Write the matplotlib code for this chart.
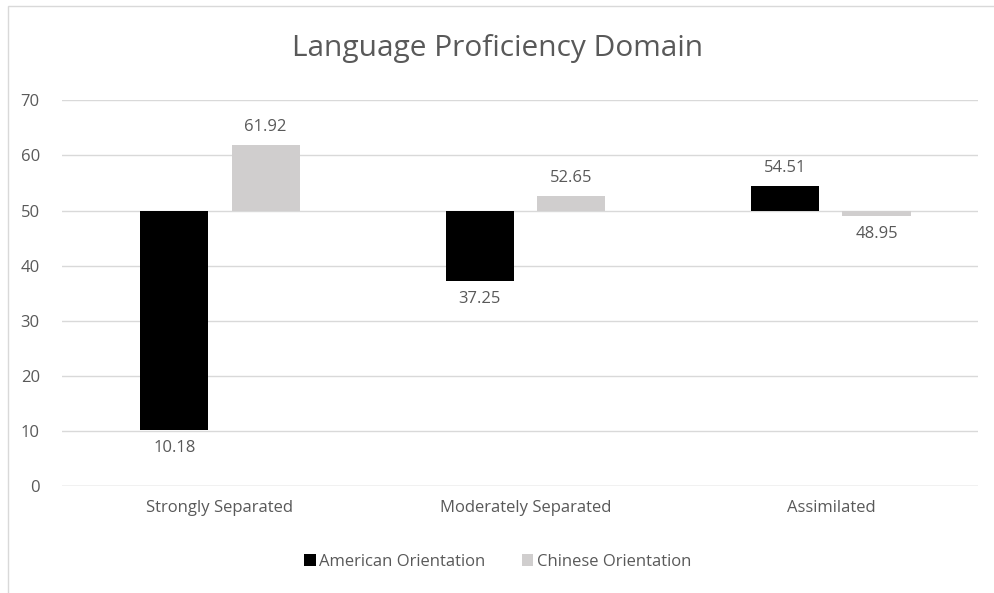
import numpy as np
import matplotlib
matplotlib.use("Agg")
import matplotlib.pyplot as plt
from matplotlib.patches import Rectangle

plt.rcParams['font.family'] = ['Open Sans', 'DejaVu Sans']

categories = ["Strongly Separated", "Moderately Separated", "Assimilated"]
american = [10.18, 37.25, 54.51]
chinese = [61.92, 52.65, 48.95]
series_names = ["American Orientation", "Chinese Orientation"]
baseline = 50

txt = "#595959"
fig = plt.figure(figsize=(9.95, 5.93), dpi=100)
ax = fig.add_axes([0.0623, 0.180, 0.921, 0.651])

x = np.arange(len(categories))
w = 0.223
off = w / 2 + 0.038
for vals, dx, col, name in [(american, -off, "#000000", series_names[0]),
                            (chinese, off, "#d0cece", series_names[1])]:
    vals = np.array(vals)
    ax.bar(x + dx, vals - baseline, w, bottom=baseline, color=col, label=name, zorder=3)
    for xi, v in zip(x + dx, vals):
        if v >= baseline:
            ax.text(xi, v + 1.8, f"{v:.2f}", ha="center", va="bottom", fontsize=12, color=txt)
        else:
            ax.text(xi, v - 1.8, f"{v:.2f}", ha="center", va="top", fontsize=12, color=txt)

ax.set_xlim(-0.517, 2.483)
ax.set_ylim(0, 70)
ax.set_yticks(range(0, 71, 10))
ax.set_xticks(x)
ax.set_xticklabels(categories)
ax.tick_params(length=0, labelsize=12, colors=txt, pad=10)
ax.tick_params(axis='y', pad=16)
ax.grid(axis='y', color="#d9d9d9", linewidth=1, zorder=0)
for s in ax.spines.values():
    s.set_visible(False)
ax.axhline(0, color="#d9d9d9", linewidth=1, zorder=1)

fig.text(0.5, 0.918, "Language Proficiency Domain", ha="center", va="center", fontsize=21.5, color=txt)
fig.legend(loc="center", bbox_to_anchor=(0.5, 0.052), ncol=2, frameon=False,
           fontsize=12, labelcolor=txt, handlelength=0.7, handleheight=0.7,
           handletextpad=0.2, columnspacing=2.2)

fig.patches.append(Rectangle((0.008, -0.01), 1.1, 1.0, transform=fig.transFigure,
                             fill=False, edgecolor="#d9d9d9", linewidth=1))
fig.savefig("out.png", dpi=100)
